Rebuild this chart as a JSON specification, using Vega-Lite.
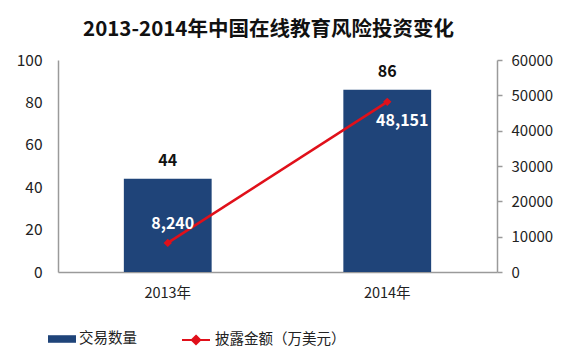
{
  "$schema": "https://vega.github.io/schema/vega-lite/v6.json",
  "autosize": {"type": "none"},
  "width": 439,
  "height": 212,
  "padding": {"left": 58, "top": 60, "right": 83, "bottom": 87},
  "background": "white",
  "config": {
    "font": "Noto Sans CJK SC",
    "view": {"stroke": null}
  },
  "title": {
    "text": "2013-2014年中国在线教育风险投资变化",
    "fontSize": 20.5,
    "fontWeight": "bold",
    "color": "#111111",
    "anchor": "middle",
    "frame": "group",
    "dx": -9,
    "offset": 13
  },
  "data": {
    "values": [
      {"year": "2013年", "count": 44, "amount": 8240, "amountLabel": "8,240"},
      {"year": "2014年", "count": 86, "amount": 48151, "amountLabel": "48,151"}
    ]
  },
  "encoding": {
    "x": {
      "field": "year",
      "type": "nominal",
      "sort": null,
      "scale": {"paddingInner": 0.6, "paddingOuter": 0.3},
      "axis": {
        "title": null,
        "labelAngle": 0,
        "labelFontSize": 14.5,
        "labelColor": "#222222",
        "labelPadding": 14,
        "ticks": false,
        "domainColor": "#9a9a9a",
        "domainWidth": 1.5
      }
    }
  },
  "layer": [
    {
      "encoding": {
        "y": {
          "field": "count",
          "type": "quantitative",
          "scale": {"domain": [0, 100]},
          "axis": {
            "title": null,
            "values": [0, 20, 40, 60, 80, 100],
            "grid": false,
            "ticks": false,
            "labelOverlap": false,
            "labelFontSize": 15.5,
            "labelColor": "#222222",
            "labelPadding": 16,
            "domainColor": "#9a9a9a",
            "domainWidth": 1.5
          }
        }
      },
      "layer": [
        {
          "mark": {"type": "bar"},
          "encoding": {
            "fill": {
              "datum": "交易数量",
              "type": "nominal",
              "scale": {"range": ["#1F4479"]},
              "legend": {
                "title": null,
                "orient": "none",
                "legendX": -10,
                "legendY": 265,
                "symbolType": "M-1,-0.27H1V0.27H-1Z",
                "symbolSize": 784,
                "symbolStrokeWidth": 0,
                "labelFontSize": 14.5,
                "labelColor": "#222222",
                "labelOffset": 3
              }
            }
          }
        },
        {
          "mark": {"type": "text", "fontSize": 16, "fontWeight": "bold", "color": "#111111", "dy": -18},
          "encoding": {
            "text": {"field": "count", "type": "quantitative"}
          }
        }
      ]
    },
    {
      "encoding": {
        "y": {
          "field": "amount",
          "type": "quantitative",
          "scale": {"domain": [0, 60000]},
          "axis": {
            "title": null,
            "orient": "right",
            "values": [0, 10000, 20000, 30000, 40000, 50000, 60000],
            "tickCount": 7,
            "format": "d",
            "grid": false,
            "labelOverlap": false,
            "tickSize": 5,
            "tickColor": "#9a9a9a",
            "tickWidth": 1.5,
            "labelFontSize": 15,
            "labelColor": "#222222",
            "labelPadding": 9,
            "domainColor": "#9a9a9a",
            "domainWidth": 1.5
          }
        }
      },
      "layer": [
        {
          "mark": {"type": "line", "strokeWidth": 2.5},
          "encoding": {
            "stroke": {
              "datum": "披露金额（万美元）",
              "type": "nominal",
              "scale": {"range": ["#E0101A"]},
              "legend": {
                "title": null,
                "orient": "none",
                "legendX": 123,
                "legendY": 265,
                "symbolType": "M-1,0L1,0M0,-0.3L0.3,0L0,0.3L-0.3,0Z",
                "symbolSize": 784,
                "symbolFillColor": "#E0101A",
                "symbolStrokeWidth": 2,
                "labelFontSize": 14.5,
                "labelColor": "#222222",
                "labelOffset": 4
              }
            }
          }
        },
        {
          "mark": {"type": "point", "shape": "diamond", "filled": true, "size": 70, "color": "#E0101A", "opacity": 1},
          "encoding": {}
        },
        {
          "transform": [{"filter": "datum.amount < 20000"}],
          "mark": {"type": "text", "fontSize": 16, "fontWeight": "bold", "color": "white", "dx": 5, "dy": -19},
          "encoding": {
            "text": {"field": "amountLabel", "type": "nominal"}
          }
        },
        {
          "transform": [{"filter": "datum.amount >= 20000"}],
          "mark": {"type": "text", "fontSize": 16, "fontWeight": "bold", "color": "white", "dx": 15, "dy": 19},
          "encoding": {
            "text": {"field": "amountLabel", "type": "nominal"}
          }
        }
      ]
    }
  ],
  "resolve": {"scale": {"y": "independent"}}
}
